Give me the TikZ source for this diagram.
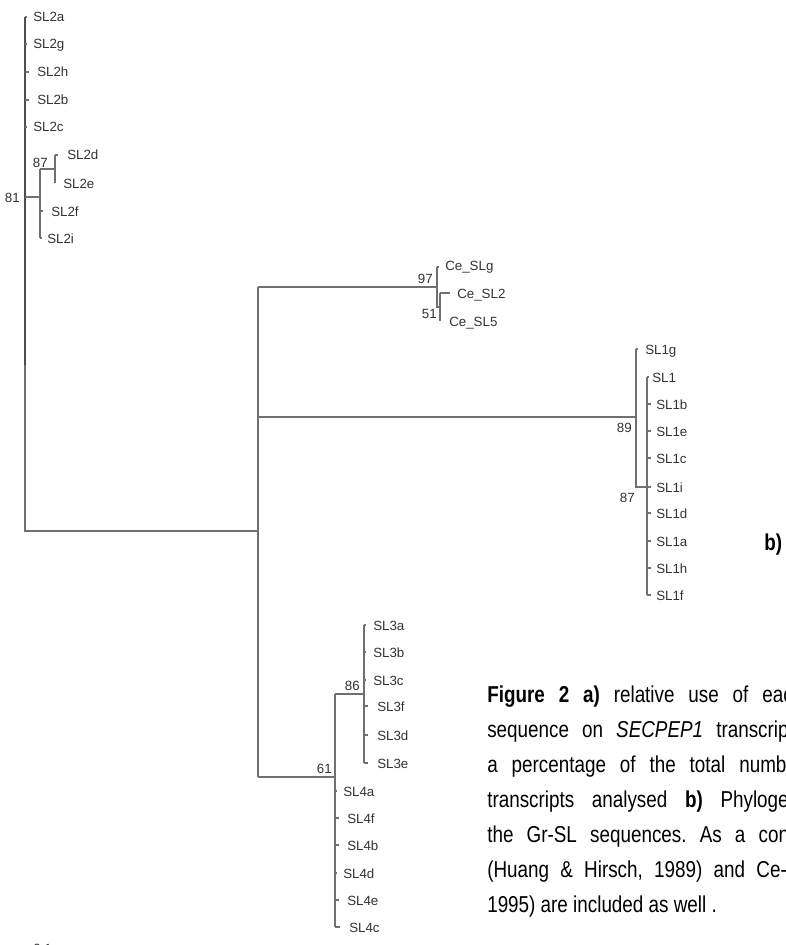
\documentclass[tikz,border=0pt]{standalone}
\usepackage{fontspec}
\setmainfont{Liberation Sans}
\newfontfamily\capfont{Liberation Sans}[FakeStretch=0.82]
\definecolor{linegray}{HTML}{707070}
\definecolor{labgray}{HTML}{333333}
\frenchspacing
\begin{document}
\begin{tikzpicture}[x=0.75pt,y=-0.75pt,
  br/.style={draw=linegray,line width=0.8pt},
  brdark/.style={draw=linegray!70!black,line width=1pt},
  lab/.style={anchor=base west,inner sep=0pt,font=\fontsize{10}{12}\selectfont,text=labgray},
  bsv/.style={anchor=base east,inner sep=0pt,font=\fontsize{10}{12}\selectfont,text=labgray},
  capline/.style={anchor=base west,inner sep=0pt,font=\capfont\fontsize{17.25}{20}\selectfont,text=black}]
\useasboundingbox (0,0) rectangle (785,945);

% ---------- coordinates ----------
\coordinate (rt) at (25,17);
\coordinate (rm) at (25,365);
\coordinate (rb) at (25,531);
\coordinate (n64) at (258,531);
\coordinate (n64t) at (258,287);
\coordinate (n64m) at (258,417);
\coordinate (n64b) at (258,777);
% SL2 clade
\coordinate (s2n) at (25,197);
\coordinate (s2v1) at (40,169);
\coordinate (s2v2) at (40,238);
\coordinate (s2n2) at (40,197);
\coordinate (s2d) at (55,155);
\coordinate (s2e) at (55,183);
\coordinate (s2dn) at (55,169);
% Ce clade
\coordinate (ceh) at (437,287);
\coordinate (ce1) at (437,267);
\coordinate (ce2) at (437,307);
\coordinate (ce2n) at (440,307);
\coordinate (ce3) at (440,293);
\coordinate (ce4) at (440,321);
% SL1 clade
\coordinate (s1h) at (636,417);
\coordinate (s1t) at (636,349);
\coordinate (s1b) at (636,487);
\coordinate (s1bn) at (647,487);
\coordinate (s1it) at (647,377);
\coordinate (s1ib) at (647,595);
% SL3/SL4 clade
\coordinate (s34h) at (335,777);
\coordinate (s34t) at (335,694);
\coordinate (s34b) at (335,927);
\coordinate (s3h) at (364,694);
\coordinate (s3t) at (364,625);
\coordinate (s3b) at (364,763);

% ---------- branches ----------
\draw[brdark] (rt) -- (rm);
\draw[br] (rm) -- (rb) -- (n64);
\draw[br] (n64t) -- (n64b);
% SL2
\draw[br] (s2n) -- (s2n2);
\draw[br] (s2v1) -- (s2v2);
\draw[br] (s2v1) -- (s2dn);
\draw[br] (s2d) -- (s2e);
% Ce
\draw[br] (n64t) -- (ceh);
\draw[br] (ce1) -- (ce2) -- (ce2n);
\draw[br] (ce3) -- (ce4);
% SL1
\draw[br] (n64m) -- (s1h);
\draw[br] (s1t) -- (s1b) -- (s1bn);
\draw[br] (s1it) -- (s1ib);
% SL3/4
\draw[br] (n64b) -- (s34h);
\draw[br] (s34t) -- (s34b);
\draw[br] (s34t) -- (s3h);
\draw[br] (s3t) -- (s3b);

% ---------- leaves SL2 ----------
\node[lab] (l2a) at (33,22) {SL2a};
\node[lab] (l2g) at (33,49) {SL2g};
\node[lab] (l2h) at (37,77) {SL2h};
\node[lab] (l2b) at (37,105) {SL2b};
\node[lab] (l2c) at (33,132) {SL2c};
\node[lab] (l2d) at (67,160) {SL2d};
\node[lab] (l2e) at (63,188) {SL2e};
\node[lab] (l2f) at (51,216) {SL2f};
\node[lab] (l2i) at (47,243) {SL2i};
\draw[br] (25,17) -- ++(1.5,0);
\draw[br] (25,44) -- ++(1.5,0);
\draw[br] (25,72) -- ++(4,0);
\draw[br] (25,100) -- ++(4,0);
\draw[br] (25,127) -- ++(1.5,0);
\draw[br] (s2d) -- ++(3,0);
\draw[br] (40,211) -- ++(3,0);
\draw[br] (s2v2) -- ++(1.5,0);
\node[bsv] (b81) at (20,202) {81};
\node[bsv] (b87a) at (48,167) {87};

% ---------- leaves Ce ----------
\node[lab] (lceg) at (445,270) {Ce\_SLg};
\node[lab] (lce2) at (457,298) {Ce\_SL2};
\node[lab] (lce5) at (449,326) {Ce\_SL5};
\draw[br] (ce1) -- ++(1.5,0);
\draw[br] (ce3) -- ++(10,0);
\node[bsv] (b97) at (433,283) {97};
\node[bsv] (b51) at (437,318) {51};

% ---------- leaves SL1 ----------
\node[lab] (l1g) at (645,354) {SL1g};
\node[lab] (l1) at (652,382) {SL1};
\node[lab] (l1b) at (656,409) {SL1b};
\node[lab] (l1e) at (656,436) {SL1e};
\node[lab] (l1c) at (656,463) {SL1c};
\node[lab] (l1i) at (656,492) {SL1i};
\node[lab] (l1d) at (656,518) {SL1d};
\node[lab] (l1a) at (656,546) {SL1a};
\node[lab] (l1h) at (656,573) {SL1h};
\node[lab] (l1f) at (656,600) {SL1f};
\draw[br] (s1t) -- ++(2,0);
\draw[br] (s1it) -- ++(2,0);
\foreach \yy in {404,431,458,487,513,541,568,595} \draw[br] (647,\yy) -- ++(4,0);
\node[bsv] (b89) at (632,432) {89};
\node[bsv] (b87b) at (635,502) {87};
\node[anchor=base west,inner sep=0pt,font=\capfont\bfseries\fontsize{17.25}{20}\selectfont] (bb) at (764,550) {b)};

% ---------- leaves SL3 / SL4 ----------
\node[lab] (l3a) at (373,630) {SL3a};
\node[lab] (l3b) at (373,657) {SL3b};
\node[lab] (l3c) at (373,685) {SL3c};
\node[lab] (l3f) at (377,711) {SL3f};
\node[lab] (l3d) at (377,740) {SL3d};
\node[lab] (l3e) at (377,768) {SL3e};
\draw[br] (s3t) -- ++(2,0);
\draw[br] (364,652) -- ++(2,0);
\draw[br] (364,680) -- ++(2,0);
\draw[br] (364,706) -- ++(4,0);
\draw[br] (364,735) -- ++(4,0);
\draw[br] (s3b) -- ++(4,0);
\node[bsv] (b86) at (360,690) {86};
\node[bsv] (b61) at (332,773) {61};
\node[lab] (l4a) at (343,796) {SL4a};
\node[lab] (l4f) at (347,823) {SL4f};
\node[lab] (l4b) at (347,850) {SL4b};
\node[lab] (l4d) at (343,878) {SL4d};
\node[lab] (l4e) at (347,905) {SL4e};
\node[lab] (l4c) at (349,932) {SL4c};
\draw[br] (335,791) -- ++(1.5,0);
\draw[br] (335,818) -- ++(4,0);
\draw[br] (335,845) -- ++(4,0);
\draw[br] (335,873) -- ++(1.5,0);
\draw[br] (335,900) -- ++(4,0);
\draw[br] (s34b) -- ++(5,0);

% scale label (cut by the lower edge)
\node[lab] (scl) at (33,953) {0.1};

% ---------- caption ----------
\node[capline] (c1) at (487,702) {\makebox[237pt][s]{\textbf{Figure 2 a)} relative use of each}};
\node[capline] (c2) at (487,737) {\makebox[237pt][s]{sequence on \textit{SECPEP1} transcripts}};
\node[capline] (c3) at (487,772) {\makebox[237pt][s]{a percentage of the total number}};
\node[capline] (c4) at (487,807) {\makebox[241pt][s]{transcripts analysed \textbf{b)} Phylogeny}};
\node[capline] (c5) at (487,842) {\makebox[246pt][s]{the Gr-SL sequences. As a control}};
\node[capline] (c6) at (487,877) {\makebox[242pt][s]{(Huang \& Hirsch, 1989) and Ce-SL}};
\node[capline] (c7) at (487,912) {1995) are included as well .};
\end{tikzpicture}
\end{document}
